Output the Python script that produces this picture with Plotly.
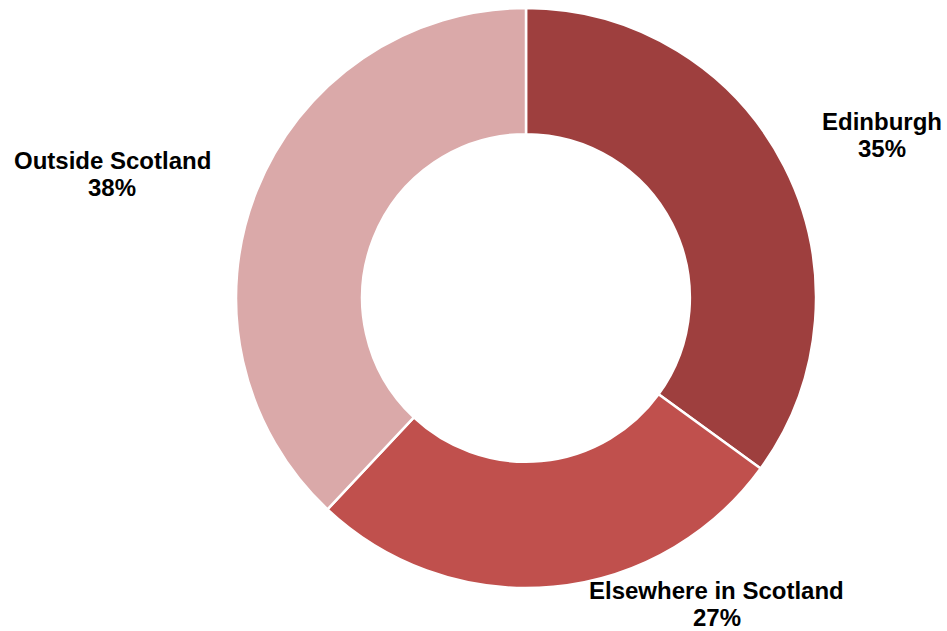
import plotly.graph_objects as go

labels = ["Edinburgh", "Elsewhere in Scotland", "Outside Scotland"]
values = [35, 27, 38]
colors = ["#9E3F3E", "#C0504D", "#DAA9A9"]

W, H = 947, 631
# label placement in pixels (centre x, first-line centre y) - style only
label_px = [(882, 121), (716.5, 590), (112, 160.5)]
line_gap = 27.5

cx, cy, r = 526, 298, 290

fig = go.Figure(go.Pie(
    labels=labels,
    values=values,
    hole=0.565,
    sort=False,
    direction="clockwise",
    rotation=0,
    marker=dict(colors=colors, line=dict(color="white", width=2.5)),
    textinfo="none",
    hoverinfo="label+percent",
    showlegend=False,
    domain=dict(x=[(cx - r) / W, (cx + r) / W], y=[1 - (cy + r) / H, 1 - (cy - r) / H]),
))

total = sum(values)
font = dict(family="Liberation Sans, Arial, sans-serif", size=24, color="#000000")
for lab, v, (px, py) in zip(labels, values, label_px):
    for i, t in enumerate([lab, f"{round(100 * v / total)}%"]):
        fig.add_annotation(
            x=px / W, y=1 - (py + i * line_gap) / H, xref="paper", yref="paper",
            text=f"<b>{t}</b>",
            showarrow=False, xanchor="center", yanchor="middle",
            font=font, align="center",
        )

fig.update_layout(
    width=W, height=H,
    margin=dict(l=0, r=0, t=0, b=0),
    paper_bgcolor="white",
    plot_bgcolor="white",
)

fig.write_html("out.html")
